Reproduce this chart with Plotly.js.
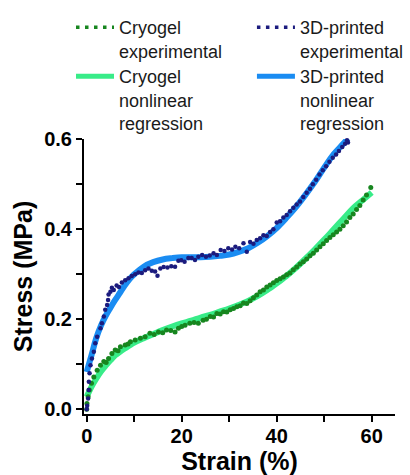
<!DOCTYPE html>
<html>
<head>
<meta charset="utf-8">
<script src="https://cdn.plot.ly/plotly-3.0.1.min.js"></script>
<style>html,body{margin:0;padding:0;background:#fff;}#chart{width:410px;height:475px;}</style>
</head>
<body>
<div id="chart"></div>
<script>
// 3D-printed experimental (strain %, stress MPa)
var printedExpX = [0.0,0.1,0.3,0.4,0.45,0.6,0.8,1.1,1.5,1.8,2.2,2.9,3.2,3.6,3.9,4.3,4.5,4.6,5.0,5.3,5.7,6.3,6.8,7.4,8.1,8.8,9.5,10.2,10.9,11.6,12.3,13.0,13.7,14.4,14.9,15.5,16.2,17.0,17.8,18.6,19.3,19.9,20.6,21.4,22.1,22.8,23.5,24.3,25.1,25.9,26.7,27.4,28.2,29.0,29.8,30.6,31.3,32.1,33.0,33.7,34.4,35.1,35.8,36.5,37.2,37.9,38.6,39.3,40.0,40.7,41.4,42.1,42.8,43.5,44.2,44.9,45.6,46.3,47.0,47.6,48.3,49.0,49.7,50.4,51.1,51.8,52.5,53.1,53.8,54.4,55.0,54.8];
var printedExpY = [0.000,0.008,0.024,0.043,0.061,0.080,0.098,0.113,0.128,0.147,0.161,0.180,0.191,0.206,0.221,0.232,0.243,0.255,0.261,0.270,0.265,0.275,0.272,0.282,0.287,0.291,0.296,0.300,0.304,0.303,0.309,0.313,0.308,0.306,0.297,0.313,0.316,0.315,0.318,0.317,0.330,0.331,0.328,0.336,0.336,0.332,0.339,0.343,0.339,0.342,0.347,0.343,0.354,0.352,0.358,0.355,0.361,0.358,0.369,0.350,0.372,0.368,0.376,0.380,0.387,0.385,0.394,0.400,0.415,0.418,0.426,0.432,0.440,0.448,0.455,0.462,0.472,0.481,0.490,0.500,0.510,0.522,0.531,0.540,0.550,0.559,0.566,0.574,0.583,0.590,0.593,0.598];

// 3D-printed nonlinear regression
var printedFitX = [0,1,2,3,4,5,6,7,8,9,10,12,14,16,18,20,22,24,26,28,30,32,34,36,38,40,42,44,46,48,50,52,54,55];
var printedFitY = [0.083,0.120,0.158,0.186,0.208,0.226,0.243,0.259,0.275,0.289,0.300,0.317,0.327,0.333,0.336,0.338,0.338,0.338,0.339,0.341,0.344,0.350,0.358,0.370,0.385,0.403,0.425,0.449,0.476,0.505,0.537,0.567,0.590,0.602];

// Cryogel experimental
var cryoExpX = [0.0,0.05,0.3,0.55,1.0,1.5,2.2,2.9,3.6,4.1,4.6,5.3,6.0,6.6,7.1,8.1,8.7,9.2,10.2,11.3,12.3,13.3,14.2,15.1,16.0,16.8,17.7,18.6,19.3,20.0,20.7,21.7,22.6,23.5,24.5,25.2,26.0,26.7,27.4,28.1,28.8,29.5,30.2,30.9,31.6,32.3,33.0,33.7,34.4,35.1,35.8,36.5,37.2,37.9,38.6,39.3,40.0,40.7,41.4,42.1,42.8,43.5,44.2,44.9,45.6,46.3,47.0,47.7,48.4,49.1,49.8,50.5,51.2,51.9,52.6,53.3,54.0,54.7,55.4,56.1,56.8,57.5,58.2,58.9,59.8];
var cryoExpY = [0.000,0.013,0.028,0.043,0.058,0.072,0.087,0.098,0.106,0.104,0.113,0.124,0.132,0.130,0.139,0.143,0.145,0.150,0.154,0.158,0.161,0.169,0.166,0.172,0.170,0.176,0.175,0.172,0.180,0.184,0.187,0.191,0.193,0.191,0.198,0.200,0.206,0.205,0.213,0.212,0.217,0.216,0.221,0.224,0.228,0.230,0.236,0.235,0.241,0.248,0.254,0.261,0.265,0.272,0.276,0.281,0.286,0.290,0.294,0.299,0.303,0.310,0.316,0.323,0.328,0.334,0.341,0.347,0.354,0.361,0.368,0.375,0.382,0.388,0.394,0.400,0.408,0.416,0.426,0.434,0.444,0.453,0.465,0.476,0.493];

// Cryogel nonlinear regression
var cryoFitX = [0,1,2,3,4,5,6,7,8,10,12,14,16,18,20,22,24,26,28,30,32,34,36,38,40,42,44,46,48,50,52,54,56,58,60];
var cryoFitY = [0.028,0.050,0.068,0.084,0.097,0.109,0.120,0.128,0.135,0.148,0.158,0.167,0.176,0.184,0.191,0.197,0.204,0.210,0.217,0.224,0.232,0.241,0.252,0.265,0.280,0.296,0.314,0.334,0.355,0.377,0.400,0.423,0.446,0.464,0.482];

var xTickVals = [0,10,20,30,40,50,60];
var xTickText = ['0','','20','','40','','60'];
var yTickVals = [0,0.1,0.2,0.3,0.4,0.5,0.6];
var yTickText = ['0.0','','0.2','','0.4','','0.6'];

var names = ['Cryogel<br>experimental','Cryogel<br>nonlinear<br>regression','3D-printed<br>experimental','3D-printed<br>nonlinear<br>regression'];

var C_GREEN_DOT = '#17861f';
var C_GREEN_FIT = '#38ec88';
var C_NAVY_DOT = '#1b1b7e';
var C_BLUE_FIT = '#1a8cf2';

var traces = [
  {x: cryoFitX, y: cryoFitY, mode:'lines', line:{color:C_GREEN_FIT, width:6, shape:'spline'}, showlegend:false, cliponaxis:false, hoverinfo:'skip'},
  {x: printedFitX, y: printedFitY, mode:'lines', line:{color:C_BLUE_FIT, width:6, shape:'spline'}, showlegend:false, cliponaxis:false, hoverinfo:'skip'},
  {x: cryoExpX, y: cryoExpY, mode:'markers', marker:{color:C_GREEN_DOT, size:5}, showlegend:false, cliponaxis:false},
  {x: printedExpX, y: printedExpY, mode:'markers', marker:{color:C_NAVY_DOT, size:4.5}, showlegend:false, cliponaxis:false},
  // legend entries
  {x:[null], y:[null], name:names[0], mode:'lines', line:{color:C_GREEN_DOT, width:3.5, dash:'3.5px,5.5px'}, legend:'legend'},
  {x:[null], y:[null], name:names[1], mode:'lines', line:{color:C_GREEN_FIT, width:5}, legend:'legend2'},
  {x:[null], y:[null], name:names[2], mode:'lines', line:{color:C_NAVY_DOT, width:3.5, dash:'3.5px,5.5px'}, legend:'legend3'},
  {x:[null], y:[null], name:names[3], mode:'lines', line:{color:C_BLUE_FIT, width:5}, legend:'legend4'}
];

var legendFont = {family:'Liberation Sans, Arial, sans-serif', size:18, color:'#1a1a1a'};
function lg(x, y) {
  return {x:x, y:y, xanchor:'left', yanchor:'top', orientation:'v', valign:'top', font:legendFont,
          bgcolor:'rgba(0,0,0,0)', itemwidth:38, itemclick:false};
}
var row1 = 1.4727, row2 = 1.2945;
var col1 = -0.0418, col2 = 0.540;

var layout = {
  width:410, height:475,
  margin:{l:84, r:15, t:139, b:61, autoexpand:false},
  paper_bgcolor:'#fff', plot_bgcolor:'#fff',
  showlegend:true,
  legend: lg(col1, row1),
  legend2: lg(col1, row2),
  legend3: lg(col2, row1),
  legend4: lg(col2, row2),
  xaxis:{
    range:[-0.57, 64.9], showgrid:false, zeroline:false,
    showline:true, linecolor:'#000', linewidth:2,
    ticks:'outside', ticklen:6, tickwidth:2, tickcolor:'#000',
    tickmode:'array', tickvals:xTickVals, ticktext:xTickText, ticklabelstandoff:-3,
    tickfont:{family:'Liberation Sans, Arial, sans-serif', size:20, color:'#000', weight:'bold'},
    title:{text:'Strain (%)', font:{family:'Liberation Sans, Arial, sans-serif', size:25, color:'#000', weight:'bold'}, standoff:6}
  },
  yaxis:{
    range:[-0.0104, 0.6007], showgrid:false, zeroline:false,
    showline:true, linecolor:'#000', linewidth:2,
    ticks:'outside', ticklen:6, tickwidth:2, tickcolor:'#000',
    tickmode:'array', tickvals:yTickVals, ticktext:yTickText,
    tickfont:{family:'Liberation Sans, Arial, sans-serif', size:20, color:'#000', weight:'bold'},
    title:{text:'Stress (MPa)', font:{family:'Liberation Sans, Arial, sans-serif', size:25, color:'#000', weight:'bold'}, standoff:4}
  }
};

Plotly.newPlot('chart', traces, layout, {staticPlot:true, displayModeBar:false});
</script>
</body>
</html>
